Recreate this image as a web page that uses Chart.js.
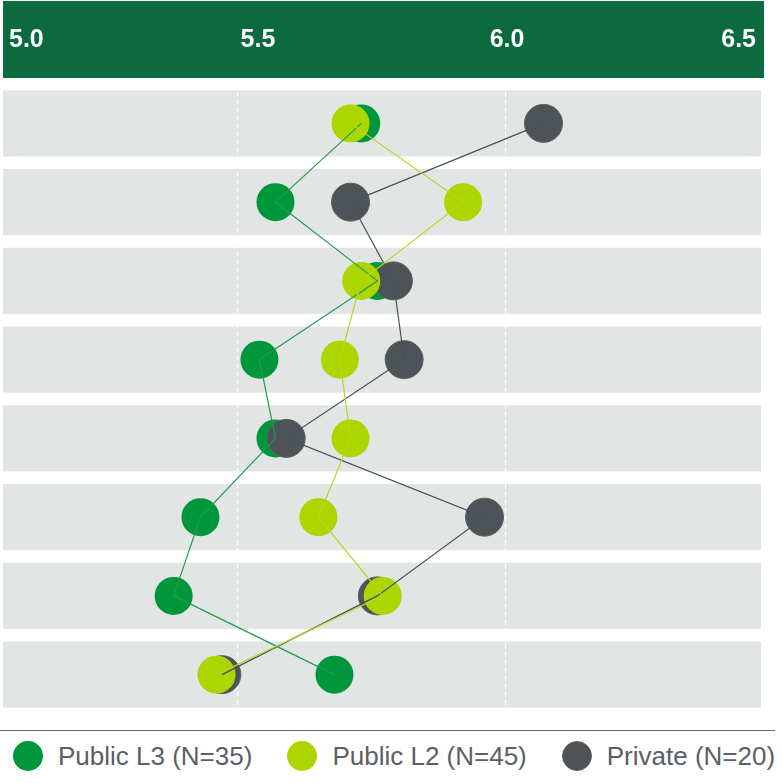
<!DOCTYPE html>
<html>
<head>
<meta charset="utf-8">
<title>Score comparison</title>
<script src="https://cdn.jsdelivr.net/npm/chart.js@4.4.1/dist/chart.umd.min.js"></script>
<style>
  body { margin: 0; background: #fff; font-family: 'Liberation Sans', Arial, sans-serif; }
  #wrap { position: relative; width: 782px; height: 783px; overflow: hidden; }
  #chart { position: absolute; left: 0; top: 0; }
  #legend {
    position: absolute; left: 0; top: 730px; width: 775px;
    border-top: 1px solid #6b6e70;
    display: flex; align-items: center; gap: 35px;
    padding: 10px 0 0 13px; box-sizing: border-box;
  }
  .lg-item { display: flex; align-items: center; }
  .lg-dot { width: 30px; height: 30px; border-radius: 50%; margin-right: 15px; box-sizing: border-box; }
  .lg-text { font-size: 26px; line-height: 30px; color: #5a6067; white-space: nowrap; }
</style>
</head>
<body>
<div id="wrap">
  <canvas id="chart" width="782" height="714"></canvas>
  <div id="legend"></div>
</div>
<script>
// rows top to bottom (labels are not shown in the picture)
const rows = ['1', '2', '3', '4', '5', '6', '7', '8'];
const headerTicks = [5.0, 5.5, 6.0, 6.5];
const gridTicks = [5.5, 6.0];

const publicL3 = [5.73, 5.57, 5.76, 5.54, 5.57, 5.43, 5.38, 5.68];
const publicL2 = [5.71, 5.92, 5.73, 5.69, 5.71, 5.65, 5.77, 5.46];
const privateSchools = [6.07, 5.71, 5.79, 5.81, 5.59, 5.96, 5.76, 5.47];

const seriesNames = ['Public L3 (N=35)', 'Public L2 (N=45)', 'Private (N=20)'];

const series = [
  { name: seriesNames[0], values: publicL3, dot: '#00963b', edge: '#00963b', edgeWidth: 0, line: '#1f9a55' },
  { name: seriesNames[1], values: publicL2, dot: '#add500', edge: '#add500', edgeWidth: 0, line: '#b8d620' },
  { name: seriesNames[2], values: privateSchools, dot: '#4e5358', edge: '#5d6166', edgeWidth: 1, line: '#45535f' }
];

const toPoints = values => values.map((v, i) => ({ x: v, y: rows[i] }));

// grey row bands + green header, painted under the scales
const backdrop = {
  id: 'backdrop',
  beforeDraw(chart) {
    const { ctx, chartArea: area, scales } = chart;
    const head = scales.x2;
    const y = scales.y;
    ctx.save();
    ctx.fillStyle = '#0b6b3e';
    ctx.fillRect(area.left, head.top + 1, area.right - area.left + 3, 77);
    ctx.fillStyle = '#e1e5e3';
    const half = (y.getPixelForValue(1) - y.getPixelForValue(0)) * 0.42;
    rows.forEach((r, i) => {
      const cy = y.getPixelForValue(i);
      ctx.fillRect(area.left, cy - half, area.right - area.left, half * 2);
    });
    ctx.restore();
  }
};

// lines first so they sit on top of every marker; markers L2 > Private > L3
const lineSets = [1, 0, 2].map(k => ({
  data: toPoints(series[k].values),
  showLine: true,
  borderColor: series[k].line,
  borderWidth: 1.2,
  pointRadius: 0,
  fill: false
}));
const dotSets = [1, 2, 0].map(k => ({
  data: toPoints(series[k].values),
  showLine: false,
  pointRadius: 19,
  pointBackgroundColor: series[k].dot,
  pointBorderColor: series[k].edge,
  pointBorderWidth: series[k].edgeWidth
}));

const chart = new Chart(document.getElementById('chart'), {
  type: 'scatter',
  data: { datasets: [...lineSets, ...dotSets] },
  options: {
    responsive: false,
    animation: false,
    events: [],
    layout: { autoPadding: false, padding: { left: 3, right: 21, top: 0, bottom: 0 } },
    plugins: { legend: { display: false }, tooltip: { enabled: false } },
    scales: {
      x: {
        type: 'linear',
        min: 5.0616,
        max: 6.4758,
        afterBuildTicks: s => { s.ticks = gridTicks.map(v => ({ value: v })); },
        ticks: { display: false },
        border: { display: false, dash: [5, 3] },
        grid: { color: '#ffffff', lineWidth: 1, drawTicks: false }
      },
      x2: {
        type: 'linear',
        position: 'top',
        min: 4.988,
        max: 6.51,
        afterBuildTicks: s => { s.ticks = headerTicks.map(v => ({ value: v })); },
        afterFit: s => {
          s.height = 84;
          s.paddingLeft = 0;
          s.paddingRight = 0;
        },
        grid: { display: false, drawTicks: false },
        border: { display: false },
        ticks: {
          align: 'inner',
          padding: 29,
          color: '#ffffff',
          font: { family: "'Liberation Sans', Arial, sans-serif", size: 25, weight: 'bold' },
          callback: v => v.toFixed(1)
        }
      },
      y: {
        type: 'category',
        labels: rows,
        offset: true,
        display: false
      }
    }
  },
  plugins: [backdrop]
});

// html legend built from the series list
const legend = document.getElementById('legend');
series.forEach(s => {
  const item = document.createElement('div');
  item.className = 'lg-item';
  item.innerHTML = `
    <span class="lg-dot" style="background:${s.dot};border:${s.edgeWidth}px solid ${s.edge}"></span>
    <span class="lg-text">${s.name}</span>
  `;
  legend.appendChild(item);
});
</script>
</body>
</html>
